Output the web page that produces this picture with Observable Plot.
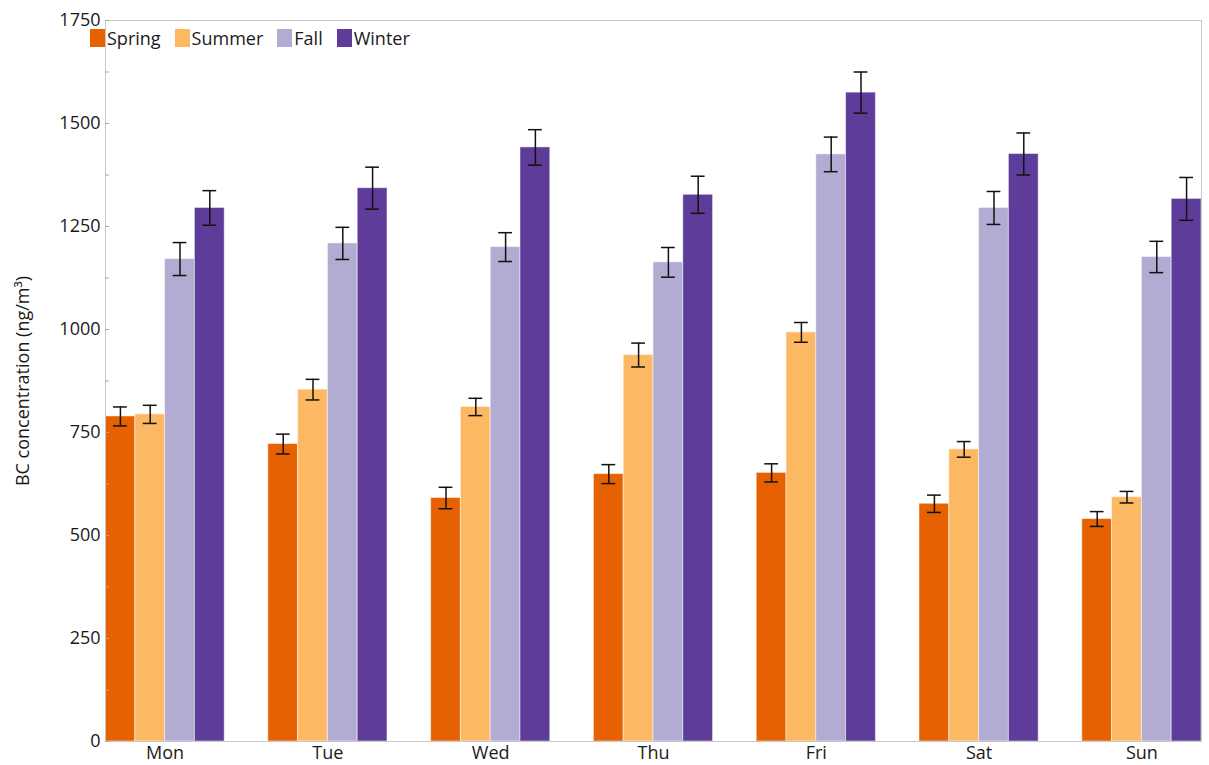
<!DOCTYPE html>
<html>
<head>
<meta charset="utf-8">
<script src="https://cdn.jsdelivr.net/npm/d3@7"></script>
<script src="https://cdn.jsdelivr.net/npm/@observablehq/plot@0.6"></script>
<style>
  html, body { margin: 0; padding: 0; background: white; overflow: hidden; }
  #wrap { position: relative; width: 1209px; height: 765px; overflow: hidden; }
  #legend { position: absolute; left: 90px; top: 26px; display: flex; align-items: center;
            font-family: "Open Sans", sans-serif; font-size: 18px; color: #1a1a1a; }
  #legend .item { display: flex; align-items: center; margin-right: 14px; }
  #legend .sw { width: 15px; height: 18px; margin-right: 2px; }
</style>
</head>
<body>
<div id="wrap"><div id="legend"></div></div>
<script>
const days = ["Mon", "Tue", "Wed", "Thu", "Fri", "Sat", "Sun"];
const seasons = ["Spring", "Summer", "Fall", "Winter"];
const seasonColors = ["#e66101", "#fdb863", "#b2abd2", "#5e3c99"];

const spring    = [789, 722, 591, 649, 652, 577, 540];
const springErr = [23, 24, 26, 23, 22, 21, 18];
const summer    = [794, 854, 812, 938, 993, 709, 593];
const summerErr = [22, 25, 21, 29, 24, 19, 14];
const fall      = [1171, 1209, 1200, 1163, 1425, 1295, 1176];
const fallErr   = [40, 39, 35, 36, 42, 40, 38];
const winter    = [1295, 1343, 1442, 1327, 1575, 1426, 1317];
const winterErr = [42, 51, 43, 45, 50, 51, 52];

const yTicks = [0, 125, 250, 375, 500, 625, 750, 875, 1000, 1125, 1250, 1375, 1500, 1625, 1750];
const yLabelTicks = [0, 250, 500, 750, 1000, 1250, 1500, 1750];

const seriesVals = [spring, summer, fall, winter];
const seriesErrs = [springErr, summerErr, fallErr, winterErr];
const data = [];
days.forEach((d, i) => seasons.forEach((s, j) => {
  data.push({day: d, season: s, value: seriesVals[j][i], err: seriesErrs[j][i]});
}));

const chart = Plot.plot({
  width: 1221,
  height: 765,
  marginLeft: 85,
  marginRight: 0,
  marginTop: 20,
  marginBottom: 24,
  style: {fontFamily: "Open Sans, sans-serif", fontSize: "18px", color: "#1a1a1a", background: "white", maxWidth: "none", overflow: "visible"},
  fx: {domain: days, paddingInner: 0.268, paddingOuter: 0.123, round: false, label: null, axis: null},
  x: {domain: seasons, padding: 0, round: false, axis: null},
  y: {domain: [0, 1750], axis: null},
  color: {domain: seasons, range: seasonColors},
  marks: [
    Plot.barY(data, {fx: "day", x: "season", y: "value", fill: "season", stroke: "white", strokeOpacity: 0.5, strokeWidth: 1}),
    Plot.ruleX(data, {fx: "day", x: "season", y1: d => d.value - d.err, y2: d => d.value + d.err, stroke: "#111", strokeWidth: 1.5}),
    Plot.tickY(data, {fx: "day", x: "season", y: d => d.value - d.err, stroke: "#111", strokeWidth: 1.5, insetLeft: 8, insetRight: 8}),
    Plot.tickY(data, {fx: "day", x: "season", y: d => d.value + d.err, stroke: "#111", strokeWidth: 1.5, insetLeft: 8, insetRight: 8}),
    Plot.frame({facet: "super", stroke: "#c8c8c8"}),
    Plot.axisY({ticks: yTicks, tickFormat: d => "", tickSize: -4, stroke: "#aaa", label: null}),
    Plot.axisY({ticks: yLabelTicks, tickFormat: d => String(d), tickSize: 0, tickPadding: 5, fill: "#1a1a1a",
                label: "BC concentration (ng/m³)", labelAnchor: "center", labelArrow: "none", labelOffset: 89}),
    Plot.axisFx({anchor: "bottom", tickSize: 0, tickPadding: 5, label: null, fill: "#1a1a1a"})
  ]
});
document.getElementById("wrap").prepend(chart);

const legend = document.getElementById("legend");
seasons.forEach((s, i) => {
  const item = document.createElement("div");
  item.className = "item";
  const sw = document.createElement("span");
  sw.className = "sw";
  sw.style.background = seasonColors[i];
  const t = document.createElement("span");
  t.textContent = s;
  item.appendChild(sw); item.appendChild(t);
  legend.appendChild(item);
});
</script>
</body>
</html>
